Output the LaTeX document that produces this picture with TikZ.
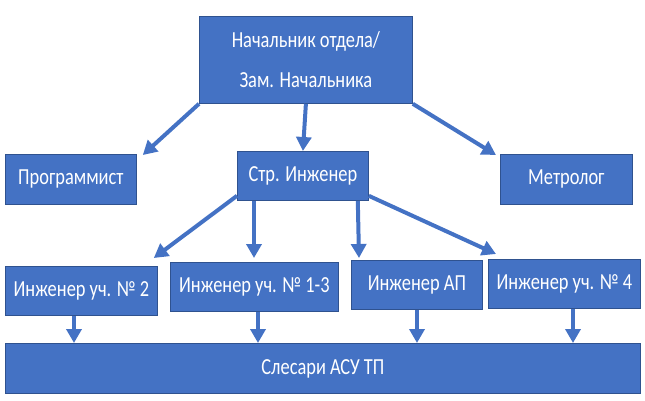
\documentclass[tikz,border=0pt]{standalone}
\usepackage{fontspec}
\setmainfont{Carlito}[FakeStretch=0.8]
\usetikzlibrary{arrows.meta,calc}
\definecolor{boxfill}{HTML}{4472C4}
\definecolor{boxline}{HTML}{2F528F}
\tikzset{
  box/.style={draw=boxline, line width=0.8pt, fill=boxfill, text=white, anchor=north west,
    inner sep=0pt, font=\fontsize{23}{40}\selectfont, align=center},
  conn/.style={draw=boxfill, line width=4pt, -{Triangle[width=15pt,length=14pt]}}
}
\begin{document}
\begin{tikzpicture}[x=1pt,y=-1pt]
\useasboundingbox (0,0) rectangle (645,400);
\node[box, minimum width=213pt, minimum height=87pt] (top) at (199,16) {Начальник отдела/\\Зам. Начальника};
\node[box, minimum width=131pt, minimum height=50pt] (prog) at (5,154) {Программист};
\node[box, minimum width=131pt, minimum height=49pt] (str) at (237,151) {Стр. Инженер};
\node[box, minimum width=132pt, minimum height=50pt] (metr) at (500,154) {Метролог};
\node[box, minimum width=152pt, minimum height=49pt] (i2) at (5,266) {Инженер уч. № 2};
\node[box, minimum width=168pt, minimum height=49pt] (i13) at (170,262) {Инженер уч. № 1-3};
\node[box, minimum width=131pt, minimum height=49pt] (iap) at (351,260) {Инженер АП};
\node[box, minimum width=152pt, minimum height=49pt] (i4) at (488,259) {Инженер уч. № 4};
\node[box, minimum width=635pt, minimum height=50pt] (sles) at (5,343) {Слесари АСУ ТП};
% arrows from top
\draw[conn] (top.south west) -- ($(prog.north east)+(6,1)$);
\draw[conn] (top.south) -- (str.north);
\draw[conn] (top.south east) -- ($(metr.north west)+(-4,1)$);
% arrows from str
\draw[conn] ($(str.south west)+(0,-5)$) -- ($(i2.north east)+(-4,-8)$);
\draw[conn] ($(str.south west)+(17,0)$) -- ($(i13.north west)+(84,-4)$);
\draw[conn] ($(str.south east)+(-11,0)$) -- ($(iap.north west)+(8,-2)$);
\draw[conn] ($(str.south east)+(0,-5)$) -- ($(i4.north west)+(8,-5)$);
% down arrows
\draw[conn] (i2.south -| 74,0) -- (sles.north -| 74,0);
\draw[conn] (i13.south -| 258,0) -- (sles.north -| 258,0);
\draw[conn] (iap.south -| 417,0) -- (sles.north -| 417,0);
\draw[conn] (i4.south -| 573,0) -- (sles.north -| 573,0);
\end{tikzpicture}
\end{document}
